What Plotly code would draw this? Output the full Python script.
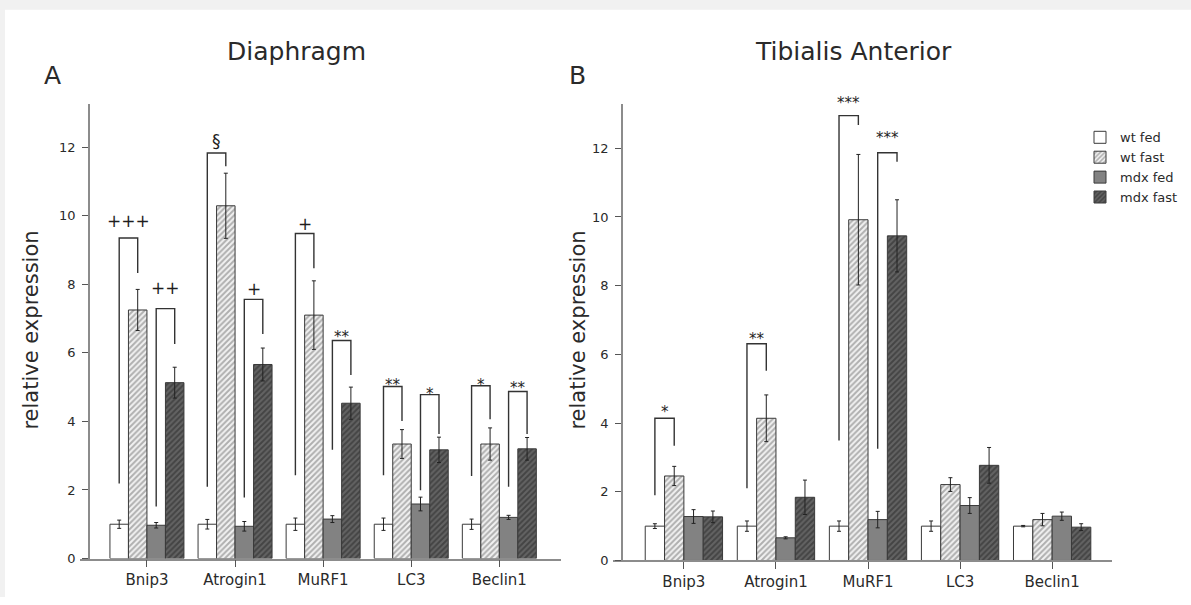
import plotly.graph_objects as go

W, H = 1191, 605

genes = ["Bnip3", "Atrogin1", "MuRF1", "LC3", "Beclin1"]
groups = ["wt fed", "wt fast", "mdx fed", "mdx fast"]

# Diaphragm (panel A)
dia_wt_fed = [1.0, 1.0, 1.0, 1.0, 1.0]
dia_wt_fed_err = [0.12, 0.14, 0.18, 0.18, 0.15]
dia_wt_fast = [7.25, 10.29, 7.1, 3.34, 3.34]
dia_wt_fast_err = [0.6, 0.95, 1.0, 0.42, 0.47]
dia_mdx_fed = [0.97, 0.94, 1.15, 1.59, 1.2]
dia_mdx_fed_err = [0.08, 0.14, 0.1, 0.2, 0.06]
dia_mdx_fast = [5.13, 5.66, 4.53, 3.17, 3.2]
dia_mdx_fast_err = [0.45, 0.48, 0.47, 0.37, 0.33]

# Tibialis Anterior (panel B)
ta_wt_fed = [1.0, 1.0, 1.0, 1.0, 1.0]
ta_wt_fed_err = [0.07, 0.15, 0.15, 0.15, 0.02]
ta_wt_fast = [2.46, 4.14, 9.92, 2.21, 1.19]
ta_wt_fast_err = [0.28, 0.68, 1.9, 0.2, 0.18]
ta_mdx_fed = [1.28, 0.66, 1.19, 1.6, 1.29]
ta_mdx_fed_err = [0.2, 0.03, 0.24, 0.23, 0.12]
ta_mdx_fast = [1.27, 1.84, 9.45, 2.77, 0.97]
ta_mdx_fast_err = [0.17, 0.5, 1.05, 0.52, 0.1]

# significance brackets: (gene index, first bar index, label, left leg bottom, top, right leg bottom, label y)
dia_brackets = [
    (0, 0, "+++", 2.19, 9.35, 8.33, 9.84),
    (0, 2, "++", 1.52, 7.29, 6.26, 7.87),
    (1, 0, "§", 2.09, 11.83, 11.44, 12.18),
    (1, 2, "+", 1.78, 7.56, 6.55, 7.85),
    (2, 0, "+", 2.43, 9.48, 8.47, 9.75),
    (2, 2, "**", 3.17, 6.36, 5.35, 6.6),
    (3, 0, "**", 2.43, 5.02, 4.01, 5.21),
    (3, 2, "*", 1.99, 4.78, 3.63, 4.94),
    (4, 0, "*", 2.41, 5.04, 4.06, 5.21),
    (4, 2, "**", 2.09, 4.87, 3.63, 5.11),
]
ta_brackets = [
    (0, 0, "*", 1.9, 4.14, 3.34, 4.46),
    (1, 0, "**", 2.1, 6.31, 5.52, 6.6),
    (2, 0, "***", 3.49, 12.95, 12.68, 13.47),
    (2, 2, "***", 3.25, 11.87, 11.61, 12.44),
]

FONT = "DejaVu Sans"
TXT = "#2a2a2a"
AX = "#8c8c8c"
BARGAP = 0.16

styles = [
    dict(color="#ffffff", pattern=None),
    dict(color="#eeeeee", pattern=dict(shape="/", bgcolor="#f2f2f2", fgcolor="#6c6c6c", size=4, solidity=0.5)),
    dict(color="#828282", pattern=None),
    dict(color="#555555", pattern=dict(shape="/", bgcolor="#636363", fgcolor="#262626", size=4, solidity=0.5)),
]

# panel geometry (pixels)
A_DOM_X = (80, 561)
A_DOM_Y = (105, 566)
A_RANGE_Y = 13.27
B_DOM_X = (613, 1112)
B_DOM_Y = (105, 568)
B_RANGE_Y = 13.3

x_idx = list(range(len(genes)))
fig = go.Figure()

panels = [
    ("x", "y", [dia_wt_fed, dia_wt_fast, dia_mdx_fed, dia_mdx_fast],
     [dia_wt_fed_err, dia_wt_fast_err, dia_mdx_fed_err, dia_mdx_fast_err], False),
    ("x2", "y2", [ta_wt_fed, ta_wt_fast, ta_mdx_fed, ta_mdx_fast],
     [ta_wt_fed_err, ta_wt_fast_err, ta_mdx_fed_err, ta_mdx_fast_err], True),
]

for xa, ya, vals, errs, show in panels:
    for i, (name, v, e) in enumerate(zip(groups, vals, errs)):
        st = styles[i]
        marker = dict(color=st["color"], line=dict(color="#3a3a3a", width=1))
        if st["pattern"] is not None:
            marker["pattern"] = st["pattern"]
        fig.add_trace(go.Bar(
            x=x_idx, y=v, name=name, xaxis=xa, yaxis=ya,
            marker=marker, showlegend=show, legendgroup=name,
            error_y=dict(type="data", array=e, visible=True, color="#222222",
                         thickness=1, width=2),
        ))

bw = (1 - BARGAP) / 4

def bar_x(g, i):
    return g + (i - 1.5) * bw

GRAY = "#f1f1f1"
shapes = [
    dict(type="rect", xref="paper", yref="paper", x0=0, x1=1, y0=1 - 10 / H, y1=1,
         fillcolor=GRAY, line=dict(width=0), layer="below"),
    dict(type="rect", xref="paper", yref="paper", x0=0, x1=5 / W, y0=0, y1=1,
         fillcolor=GRAY, line=dict(width=0), layer="below"),
]
annotations = []
for xa, ya, brs, dom, rng in [("x", "y", dia_brackets, A_DOM_Y, A_RANGE_Y),
                              ("x2", "y2", ta_brackets, B_DOM_Y, B_RANGE_Y)]:
    ppu = (dom[1] - dom[0]) / rng
    for g, i, lab, yl, yt, yr, ylab in brs:
        xl = bar_x(g, i)
        xr = bar_x(g, i + 1)
        shapes.append(dict(type="path", xref=xa, yref=ya,
                           path=f"M {xl},{yl} L {xl},{yt} L {xr},{yt} L {xr},{yr}",
                           line=dict(color="#333333", width=1.4)))
        star = "*" in lab
        annotations.append(dict(x=(xl + xr) / 2, y=yt, xref=xa, yref=ya, text=lab,
                                showarrow=False, yanchor="middle",
                                yshift=(ylab - yt) * ppu - (5 if star else 0),
                                font=dict(family=FONT, size=15 if star else 17, color="#1e1e1e")))

def txt(x, y, s, size, angle=0):
    annotations.append(dict(x=x / W, y=1 - y / H, xref="paper", yref="paper", text=s,
                            showarrow=False, textangle=angle, xanchor="center", yanchor="middle",
                            font=dict(family=FONT, size=size, color=TXT)))

txt(296, 52, "Diaphragm", 25)
txt(853, 52, "Tibialis Anterior", 25)
txt(52, 77, "A", 25)
txt(577, 77, "B", 25)
txt(31, 335, "relative expression", 21, -90)
txt(578, 335, "relative expression", 21, -90)

axis_common = dict(showline=True, linecolor=AX, linewidth=1.8, showgrid=False, zeroline=False,
                   ticks="outside", tickcolor="#555555", tickwidth=1.4)

fig.update_layout(
    width=W, height=H,
    margin=dict(l=0, r=0, t=0, b=0),
    paper_bgcolor="white",
    plot_bgcolor="rgba(0,0,0,0)",
    barmode="group", bargap=BARGAP, bargroupgap=0,
    font=dict(family=FONT, color=TXT),
    xaxis=dict(domain=[A_DOM_X[0] / W, A_DOM_X[1] / W], range=[-0.76, 4.70], tickvals=x_idx,
               ticktext=genes, anchor="y", ticklen=7, tickfont=dict(size=15, color=TXT), **axis_common),
    yaxis=dict(domain=[1 - A_DOM_Y[1] / H, 1 - A_DOM_Y[0] / H], range=[0, A_RANGE_Y], anchor="free",
               position=89 / W, tickvals=[0, 2, 4, 6, 8, 10, 12], ticklen=6,
               ticklabelstandoff=4, tickfont=dict(size=13, color=TXT), **axis_common),
    xaxis2=dict(domain=[B_DOM_X[0] / W, B_DOM_X[1] / W], range=[-0.77, 4.65], tickvals=x_idx,
                ticktext=genes, anchor="y2", ticklen=7, tickfont=dict(size=15, color=TXT), **axis_common),
    yaxis2=dict(domain=[1 - B_DOM_Y[1] / H, 1 - B_DOM_Y[0] / H], range=[0, B_RANGE_Y], anchor="free",
                position=622 / W, tickvals=[0, 2, 4, 6, 8, 10, 12], ticklen=6,
                ticklabelstandoff=4, tickfont=dict(size=13, color=TXT), **axis_common),
    legend=dict(x=1080 / W, y=1 - 124 / H, xanchor="left", yanchor="top",
                bgcolor="rgba(0,0,0,0)", font=dict(family=FONT, size=13, color=TXT),
                tracegroupgap=0, itemclick=False),
    shapes=shapes,
    annotations=annotations,
)

fig.write_html("out.html", config={"displayModeBar": False},
               post_script="document.body.style.margin='0px';document.body.style.overflow='hidden';"
                           "document.documentElement.style.overflow='hidden';")
